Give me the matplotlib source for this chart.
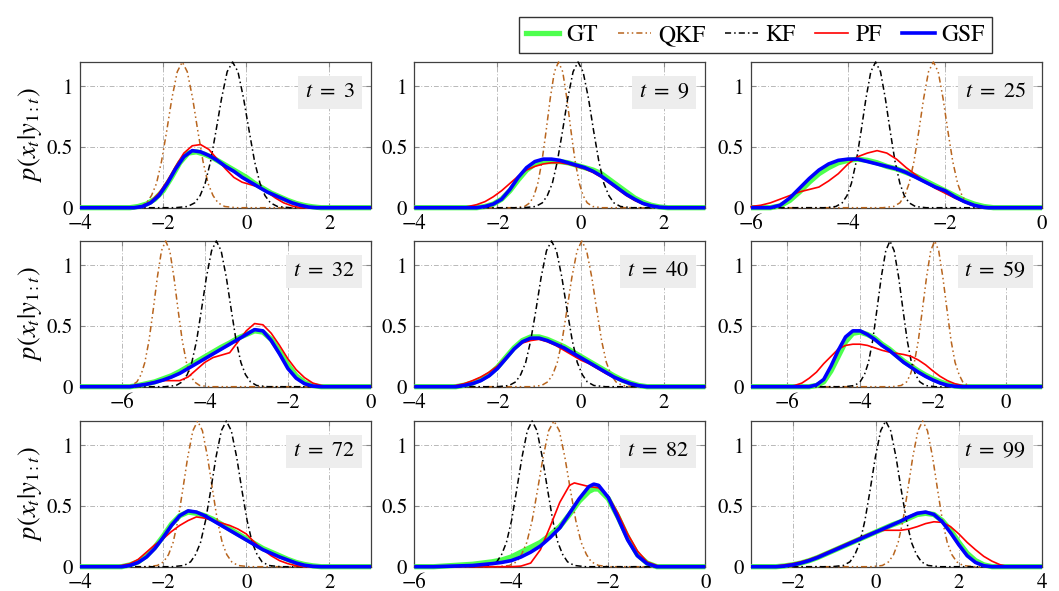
import matplotlib
matplotlib.use('Agg')
import matplotlib.pyplot as plt
from matplotlib.lines import Line2D

plt.rcParams['font.family'] = ['STIXGeneral', 'DejaVu Serif']
plt.rcParams['mathtext.fontset'] = 'stix'
plt.rcParams['axes.unicode_minus'] = True

# ---------------- data ----------------
TIMES = [3, 9, 25, 32, 40, 59, 72, 82, 99]
XLIMS = [(-4, 3), (-4, 3), (-6, 0), (-7, 0), (-4, 3), (-7, 1), (-4, 3), (-6, 0), (-3, 4)]
YTICKS = [0, 0.5, 1]
YTICKLABELS = ['0', '0.5', '1']
YMAX = 1.2
SERIES = ['GT', 'QKF', 'KF', 'PF', 'GSF']

# density levels of the narrow (KF / QKF) curves, read left tail -> peak -> right tail
NARROW_LEVELS = [0, 0.01, 0.04, 0.1, 0.2, 0.38, 0.63, 0.9, 1.12, 1.2,
                 1.12, 0.9, 0.63, 0.38, 0.2, 0.1, 0.04, 0.01, 0]

# x positions where each KF curve reaches the levels above (one list per panel)
KF_X = [
    [-1.71, -1.41, -1.24, -1.11, -0.99, -0.86, -0.73, -0.595, -0.46, -0.33,
     -0.20, -0.065, 0.07, 0.20, 0.33, 0.45, 0.58, 0.75, 1.05],
    [-1.36, -1.08, -0.92, -0.80, -0.68, -0.56, -0.435, -0.31, -0.18, -0.06,
     0.06, 0.19, 0.315, 0.44, 0.56, 0.68, 0.80, 0.96, 1.24],
    [-4.47, -4.25, -4.12, -4.02, -3.93, -3.83, -3.73, -3.63, -3.53, -3.43,
     -3.33, -3.23, -3.13, -3.03, -2.93, -2.84, -2.74, -2.61, -2.39],
    [-4.96, -4.69, -4.54, -4.42, -4.31, -4.195, -4.08, -3.96, -3.835, -3.72,
     -3.605, -3.48, -3.36, -3.245, -3.13, -3.02, -2.90, -2.75, -2.48],
    [-2.00, -1.72, -1.56, -1.44, -1.32, -1.20, -1.075, -0.95, -0.82, -0.70,
     -0.58, -0.45, -0.325, -0.20, -0.08, 0.04, 0.16, 0.32, 0.60],
    [-4.42, -4.15, -4.00, -3.88, -3.77, -3.655, -3.54, -3.42, -3.295, -3.18,
     -3.065, -2.94, -2.82, -2.705, -2.59, -2.48, -2.36, -2.21, -1.94],
    [-1.78, -1.50, -1.34, -1.22, -1.10, -0.98, -0.855, -0.73, -0.60, -0.48,
     -0.36, -0.23, -0.105, 0.02, 0.14, 0.26, 0.38, 0.54, 0.82],
    [-4.675, -4.44, -4.30, -4.20, -4.10, -3.995, -3.89, -3.78, -3.67, -3.57,
     -3.47, -3.36, -3.25, -3.145, -3.04, -2.94, -2.84, -2.70, -2.465],
    [-1.06, -0.78, -0.62, -0.50, -0.38, -0.26, -0.135, -0.01, 0.12, 0.24,
     0.36, 0.49, 0.615, 0.74, 0.86, 0.98, 1.10, 1.26, 1.54],
]

QKF_X = [
    [-2.84, -2.56, -2.40, -2.28, -2.16, -2.04, -1.915, -1.79, -1.66, -1.54,
     -1.42, -1.29, -1.165, -1.04, -0.92, -0.80, -0.68, -0.52, -0.24],
    [-1.57, -1.35, -1.22, -1.12, -1.03, -0.93, -0.83, -0.73, -0.63, -0.53,
     -0.43, -0.33, -0.23, -0.13, -0.03, 0.06, 0.16, 0.29, 0.51],
    [-3.28, -3.06, -2.93, -2.83, -2.74, -2.64, -2.54, -2.44, -2.34, -2.24,
     -2.14, -2.04, -1.94, -1.84, -1.74, -1.65, -1.55, -1.42, -1.20],
    [-5.98, -5.76, -5.63, -5.53, -5.44, -5.34, -5.24, -5.14, -5.04, -4.94,
     -4.84, -4.74, -4.64, -4.54, -4.44, -4.35, -4.25, -4.12, -3.90],
    [-1.21, -0.94, -0.79, -0.67, -0.56, -0.445, -0.33, -0.21, -0.085, 0.03,
     0.145, 0.27, 0.39, 0.505, 0.62, 0.73, 0.85, 1.00, 1.27],
    [-3.12, -2.87, -2.72, -2.62, -2.51, -2.40, -2.29, -2.175, -2.06, -1.95,
     -1.84, -1.725, -1.61, -1.50, -1.39, -1.28, -1.18, -1.03, -0.78],
    [-2.41, -2.14, -1.99, -1.87, -1.76, -1.645, -1.53, -1.41, -1.285, -1.17,
     -1.055, -0.93, -0.81, -0.695, -0.58, -0.47, -0.35, -0.20, 0.07],
    [-4.29, -4.04, -3.89, -3.79, -3.68, -3.57, -3.46, -3.345, -3.23, -3.12,
     -3.01, -2.895, -2.78, -2.67, -2.56, -2.45, -2.35, -2.20, -1.95],
    [-0.11, 0.16, 0.31, 0.43, 0.54, 0.655, 0.77, 0.89, 1.015, 1.13,
     1.245, 1.37, 1.49, 1.605, 1.72, 1.83, 1.95, 2.10, 2.37],
]

# wide curves: (x, density) pairs, one list per panel
GSF = [
    [(-2.7, 0), (-2.5, 0.01), (-2.3, 0.04), (-2.1, 0.10), (-1.9, 0.20), (-1.7, 0.32), (-1.5, 0.42),
     (-1.3, 0.47), (-1.1, 0.46), (-0.9, 0.43), (-0.7, 0.39), (-0.5, 0.34), (-0.3, 0.30), (-0.1, 0.25),
     (0.1, 0.21), (0.3, 0.17), (0.5, 0.13), (0.7, 0.10), (0.9, 0.07), (1.1, 0.04), (1.3, 0.02),
     (1.5, 0.005), (1.7, 0)],
    [(-2.5, 0), (-2.3, 0.01), (-2.1, 0.03), (-1.9, 0.07), (-1.7, 0.15), (-1.5, 0.25), (-1.3, 0.33),
     (-1.1, 0.38), (-0.9, 0.40), (-0.7, 0.40), (-0.5, 0.39), (-0.3, 0.37), (-0.1, 0.35), (0.1, 0.33),
     (0.3, 0.30), (0.5, 0.26), (0.7, 0.21), (0.9, 0.16), (1.1, 0.11), (1.3, 0.07), (1.5, 0.035),
     (1.7, 0.015), (1.9, 0.004), (2.1, 0)],
    [(-5.6, 0), (-5.4, 0.02), (-5.2, 0.08), (-5.0, 0.16), (-4.8, 0.24), (-4.6, 0.31), (-4.4, 0.36),
     (-4.2, 0.39), (-4.0, 0.40), (-3.8, 0.40), (-3.6, 0.38), (-3.4, 0.36), (-3.2, 0.34), (-3.0, 0.32),
     (-2.8, 0.29), (-2.6, 0.25), (-2.4, 0.21), (-2.2, 0.17), (-2.0, 0.14), (-1.8, 0.09), (-1.6, 0.05),
     (-1.4, 0.02), (-1.2, 0.003), (-1.1, 0)],
    [(-5.8, 0), (-5.6, 0.01), (-5.4, 0.02), (-5.2, 0.035), (-5.0, 0.055), (-4.8, 0.08), (-4.6, 0.11),
     (-4.4, 0.15), (-4.2, 0.19), (-4.0, 0.23), (-3.8, 0.27), (-3.6, 0.31), (-3.4, 0.35), (-3.2, 0.39),
     (-3.0, 0.43), (-2.8, 0.47), (-2.6, 0.46), (-2.4, 0.38), (-2.2, 0.27), (-2.0, 0.15), (-1.8, 0.07),
     (-1.6, 0.025), (-1.4, 0.005), (-1.2, 0)],
    [(-3.0, 0), (-2.8, 0.01), (-2.6, 0.025), (-2.4, 0.05), (-2.2, 0.09), (-2.0, 0.15), (-1.8, 0.23),
     (-1.6, 0.31), (-1.4, 0.37), (-1.2, 0.40), (-1.0, 0.40), (-0.8, 0.38), (-0.6, 0.35), (-0.4, 0.32),
     (-0.2, 0.28), (0.0, 0.24), (0.2, 0.20), (0.4, 0.16), (0.6, 0.12), (0.8, 0.08), (1.0, 0.05),
     (1.2, 0.025), (1.4, 0.008), (1.6, 0)],
    [(-5.4, 0), (-5.2, 0.015), (-5.0, 0.06), (-4.8, 0.17), (-4.6, 0.30), (-4.4, 0.41), (-4.2, 0.46),
     (-4.0, 0.46), (-3.8, 0.43), (-3.6, 0.39), (-3.4, 0.34), (-3.2, 0.30), (-3.0, 0.25), (-2.8, 0.20),
     (-2.6, 0.16), (-2.4, 0.12), (-2.2, 0.085), (-2.0, 0.055), (-1.8, 0.03), (-1.6, 0.012),
     (-1.4, 0.003), (-1.2, 0)],
    [(-3.0, 0), (-2.8, 0.01), (-2.6, 0.035), (-2.4, 0.08), (-2.2, 0.15), (-2.0, 0.24), (-1.8, 0.34),
     (-1.6, 0.42), (-1.4, 0.46), (-1.2, 0.45), (-1.0, 0.42), (-0.8, 0.38), (-0.6, 0.34), (-0.4, 0.30),
     (-0.2, 0.26), (0.0, 0.22), (0.2, 0.18), (0.4, 0.14), (0.6, 0.11), (0.8, 0.08), (1.0, 0.055),
     (1.2, 0.03), (1.4, 0.012), (1.6, 0.003), (1.8, 0)],
    [(-5.6, 0), (-5.2, 0.005), (-4.8, 0.01), (-4.4, 0.025), (-4.2, 0.035), (-4.0, 0.05), (-3.8, 0.08),
     (-3.6, 0.12), (-3.4, 0.17), (-3.2, 0.24), (-3.0, 0.32), (-2.8, 0.44), (-2.6, 0.56), (-2.4, 0.66),
     (-2.3, 0.68), (-2.2, 0.67), (-2.0, 0.57), (-1.8, 0.40), (-1.6, 0.22), (-1.4, 0.09), (-1.2, 0.025),
     (-1.0, 0)],
    [(-2.4, 0), (-2.2, 0.005), (-2.0, 0.015), (-1.8, 0.03), (-1.6, 0.05), (-1.4, 0.075), (-1.2, 0.105),
     (-1.0, 0.135), (-0.8, 0.165), (-0.6, 0.195), (-0.4, 0.225), (-0.2, 0.255), (0.0, 0.285),
     (0.2, 0.315), (0.4, 0.345), (0.6, 0.375), (0.8, 0.41), (1.0, 0.44), (1.2, 0.45), (1.4, 0.43),
     (1.6, 0.37), (1.8, 0.28), (2.0, 0.18), (2.2, 0.09), (2.4, 0.035), (2.6, 0.008), (2.8, 0)],
]

GT = [
    [(-2.8, 0), (-2.6, 0.01), (-2.4, 0.03), (-2.2, 0.07), (-2.0, 0.14), (-1.8, 0.25), (-1.6, 0.37),
     (-1.4, 0.45), (-1.2, 0.46), (-1.0, 0.44), (-0.8, 0.41), (-0.6, 0.37), (-0.4, 0.33), (-0.2, 0.29),
     (0.0, 0.25), (0.2, 0.20), (0.4, 0.16), (0.6, 0.12), (0.8, 0.09), (1.0, 0.06), (1.2, 0.035),
     (1.4, 0.018), (1.6, 0.007), (1.8, 0)],
    [(-2.5, 0), (-2.3, 0.01), (-2.1, 0.03), (-1.9, 0.07), (-1.7, 0.14), (-1.5, 0.23), (-1.3, 0.31),
     (-1.1, 0.36), (-0.9, 0.38), (-0.7, 0.38), (-0.5, 0.38), (-0.3, 0.37), (-0.1, 0.35), (0.1, 0.33),
     (0.3, 0.31), (0.5, 0.28), (0.7, 0.23), (0.9, 0.18), (1.1, 0.13), (1.3, 0.08), (1.5, 0.045),
     (1.7, 0.02), (1.9, 0.006), (2.1, 0)],
    [(-5.6, 0), (-5.4, 0.015), (-5.2, 0.06), (-5.0, 0.13), (-4.8, 0.21), (-4.6, 0.28), (-4.4, 0.33),
     (-4.2, 0.37), (-4.0, 0.39), (-3.8, 0.40), (-3.6, 0.39), (-3.4, 0.37), (-3.2, 0.34), (-3.0, 0.32),
     (-2.8, 0.29), (-2.6, 0.26), (-2.4, 0.22), (-2.2, 0.18), (-2.0, 0.14), (-1.8, 0.10), (-1.6, 0.06),
     (-1.4, 0.03), (-1.2, 0.01), (-1.0, 0)],
    [(-5.8, 0), (-5.6, 0.01), (-5.4, 0.025), (-5.2, 0.04), (-5.0, 0.065), (-4.8, 0.09), (-4.6, 0.125),
     (-4.4, 0.165), (-4.2, 0.205), (-4.0, 0.245), (-3.8, 0.285), (-3.6, 0.325), (-3.4, 0.36),
     (-3.2, 0.40), (-3.0, 0.43), (-2.8, 0.46), (-2.6, 0.45), (-2.4, 0.39), (-2.2, 0.29), (-2.0, 0.18),
     (-1.8, 0.09), (-1.6, 0.035), (-1.4, 0.01), (-1.2, 0)],
    [(-3.0, 0), (-2.8, 0.012), (-2.6, 0.03), (-2.4, 0.06), (-2.2, 0.10), (-2.0, 0.16), (-1.8, 0.24),
     (-1.6, 0.32), (-1.4, 0.38), (-1.2, 0.41), (-1.0, 0.41), (-0.8, 0.39), (-0.6, 0.36), (-0.4, 0.33),
     (-0.2, 0.29), (0.0, 0.25), (0.2, 0.21), (0.4, 0.17), (0.6, 0.13), (0.8, 0.09), (1.0, 0.055),
     (1.2, 0.03), (1.4, 0.01), (1.6, 0)],
    [(-5.4, 0), (-5.2, 0.01), (-5.0, 0.04), (-4.8, 0.13), (-4.6, 0.25), (-4.4, 0.37), (-4.2, 0.44),
     (-4.0, 0.45), (-3.8, 0.43), (-3.6, 0.40), (-3.4, 0.35), (-3.2, 0.31), (-3.0, 0.26), (-2.8, 0.21),
     (-2.6, 0.17), (-2.4, 0.13), (-2.2, 0.095), (-2.0, 0.065), (-1.8, 0.04), (-1.6, 0.02),
     (-1.4, 0.006), (-1.2, 0)],
    [(-3.0, 0), (-2.8, 0.015), (-2.6, 0.04), (-2.4, 0.09), (-2.2, 0.16), (-2.0, 0.25), (-1.8, 0.35),
     (-1.6, 0.42), (-1.4, 0.45), (-1.2, 0.44), (-1.0, 0.42), (-0.8, 0.39), (-0.6, 0.35), (-0.4, 0.31),
     (-0.2, 0.27), (0.0, 0.23), (0.2, 0.19), (0.4, 0.15), (0.6, 0.12), (0.8, 0.09), (1.0, 0.06),
     (1.2, 0.035), (1.4, 0.018), (1.6, 0.007), (1.8, 0)],
    [(-5.6, 0), (-5.2, 0.01), (-4.8, 0.02), (-4.4, 0.04), (-4.2, 0.055), (-4.0, 0.08), (-3.8, 0.12),
     (-3.6, 0.16), (-3.4, 0.20), (-3.2, 0.26), (-3.0, 0.33), (-2.8, 0.43), (-2.6, 0.54), (-2.4, 0.62),
     (-2.3, 0.64), (-2.2, 0.64), (-2.0, 0.56), (-1.8, 0.41), (-1.6, 0.24), (-1.4, 0.10), (-1.2, 0.03),
     (-1.0, 0)],
    [(-2.4, 0), (-2.2, 0.006), (-2.0, 0.016), (-1.8, 0.03), (-1.6, 0.05), (-1.4, 0.075), (-1.2, 0.105),
     (-1.0, 0.135), (-0.8, 0.165), (-0.6, 0.195), (-0.4, 0.225), (-0.2, 0.255), (0.0, 0.285),
     (0.2, 0.315), (0.4, 0.345), (0.6, 0.37), (0.8, 0.40), (1.0, 0.43), (1.2, 0.44), (1.4, 0.43),
     (1.6, 0.38), (1.8, 0.30), (2.0, 0.20), (2.2, 0.11), (2.4, 0.05), (2.6, 0.015), (2.8, 0)],
]

PF = [
    [(-2.7, 0), (-2.5, 0.015), (-2.3, 0.05), (-2.1, 0.12), (-1.9, 0.22), (-1.7, 0.34), (-1.5, 0.45),
     (-1.3, 0.51), (-1.1, 0.52), (-0.9, 0.48), (-0.7, 0.40), (-0.5, 0.32), (-0.3, 0.25), (-0.1, 0.21),
     (0.1, 0.19), (0.3, 0.17), (0.5, 0.13), (0.7, 0.08), (0.9, 0.04), (1.1, 0.015), (1.3, 0)],
    [(-2.9, 0), (-2.7, 0.01), (-2.5, 0.025), (-2.3, 0.05), (-2.1, 0.09), (-1.9, 0.14), (-1.7, 0.20),
     (-1.5, 0.26), (-1.3, 0.31), (-1.1, 0.34), (-0.9, 0.36), (-0.7, 0.37), (-0.5, 0.37), (-0.3, 0.36),
     (-0.1, 0.34), (0.1, 0.32), (0.3, 0.29), (0.5, 0.25), (0.7, 0.20), (0.9, 0.15), (1.1, 0.10),
     (1.3, 0.06), (1.5, 0.03), (1.7, 0.012), (1.9, 0.003), (2.1, 0)],
    [(-6.0, 0.01), (-5.8, 0.02), (-5.6, 0.04), (-5.4, 0.07), (-5.2, 0.10), (-5.0, 0.13), (-4.8, 0.15),
     (-4.6, 0.17), (-4.4, 0.22), (-4.2, 0.28), (-4.0, 0.36), (-3.8, 0.42), (-3.6, 0.45), (-3.4, 0.47),
     (-3.2, 0.45), (-3.0, 0.40), (-2.8, 0.33), (-2.6, 0.27), (-2.4, 0.21), (-2.2, 0.16), (-2.0, 0.12),
     (-1.8, 0.08), (-1.6, 0.045), (-1.4, 0.015), (-1.2, 0)],
    [(-5.8, 0), (-5.6, 0.01), (-5.4, 0.025), (-5.2, 0.04), (-5.0, 0.05), (-4.8, 0.05), (-4.6, 0.05),
     (-4.4, 0.08), (-4.2, 0.14), (-4.0, 0.20), (-3.8, 0.24), (-3.6, 0.26), (-3.4, 0.28), (-3.2, 0.37),
     (-3.0, 0.46), (-2.8, 0.52), (-2.6, 0.51), (-2.4, 0.44), (-2.2, 0.34), (-2.0, 0.23), (-1.8, 0.14),
     (-1.6, 0.075), (-1.4, 0.03), (-1.2, 0.01), (-1.0, 0)],
    [(-3.2, 0), (-3.0, 0.01), (-2.8, 0.025), (-2.6, 0.05), (-2.4, 0.08), (-2.2, 0.12), (-2.0, 0.17),
     (-1.8, 0.24), (-1.6, 0.31), (-1.4, 0.36), (-1.2, 0.38), (-1.0, 0.39), (-0.8, 0.37), (-0.6, 0.34),
     (-0.4, 0.30), (-0.2, 0.26), (0.0, 0.22), (0.2, 0.19), (0.4, 0.15), (0.6, 0.11), (0.8, 0.075),
     (1.0, 0.045), (1.2, 0.02), (1.4, 0.006), (1.6, 0)],
    [(-6.0, 0), (-5.8, 0.01), (-5.6, 0.03), (-5.4, 0.07), (-5.2, 0.12), (-5.0, 0.19), (-4.8, 0.25),
     (-4.6, 0.31), (-4.4, 0.34), (-4.2, 0.35), (-4.0, 0.35), (-3.8, 0.34), (-3.6, 0.32), (-3.4, 0.30),
     (-3.2, 0.285), (-3.0, 0.275), (-2.8, 0.265), (-2.6, 0.25), (-2.4, 0.22), (-2.2, 0.18),
     (-2.0, 0.13), (-1.8, 0.085), (-1.6, 0.05), (-1.4, 0.025), (-1.2, 0.01), (-1.0, 0)],
    [(-3.2, 0), (-3.0, 0.01), (-2.8, 0.025), (-2.6, 0.06), (-2.4, 0.12), (-2.2, 0.18), (-2.0, 0.23),
     (-1.8, 0.29), (-1.6, 0.34), (-1.4, 0.38), (-1.2, 0.41), (-1.0, 0.40), (-0.8, 0.38), (-0.6, 0.36),
     (-0.4, 0.34), (-0.2, 0.31), (0.0, 0.27), (0.2, 0.20), (0.4, 0.14), (0.6, 0.09), (0.8, 0.05),
     (1.0, 0.025), (1.2, 0.008), (1.4, 0)],
    [(-4.0, 0), (-3.8, 0.005), (-3.6, 0.03), (-3.4, 0.14), (-3.2, 0.33), (-3.0, 0.53), (-2.8, 0.67),
     (-2.7, 0.69), (-2.6, 0.68), (-2.4, 0.66), (-2.2, 0.65), (-2.0, 0.58), (-1.8, 0.44), (-1.6, 0.27),
     (-1.4, 0.13), (-1.2, 0.04), (-1.0, 0.01), (-0.9, 0)],
    [(-2.6, 0), (-2.4, 0.005), (-2.2, 0.015), (-2.0, 0.025), (-1.8, 0.04), (-1.6, 0.06), (-1.4, 0.085),
     (-1.2, 0.115), (-1.0, 0.145), (-0.8, 0.175), (-0.6, 0.205), (-0.4, 0.235), (-0.2, 0.265),
     (0.0, 0.29), (0.2, 0.30), (0.4, 0.30), (0.6, 0.30), (0.8, 0.31), (1.0, 0.33), (1.2, 0.355),
     (1.4, 0.37), (1.6, 0.365), (1.8, 0.33), (2.0, 0.27), (2.2, 0.20), (2.4, 0.14), (2.6, 0.085),
     (2.8, 0.045), (3.0, 0.015), (3.2, 0)],
]

# ---------------- styles ----------------
STYLE = {
    'GT':  dict(color='#4dff4d', lw=3.8, ls='-', zorder=3),
    'QKF': dict(color='#b8651e', lw=1.1, ls=(0, (4, 2, 1, 2, 1, 2)), zorder=4),
    'KF':  dict(color='black', lw=1.1, ls=(0, (4, 2, 1, 2)), zorder=5),
    'PF':  dict(color='#ff0000', lw=1.2, ls='-', zorder=6),
    'GSF': dict(color='#0000ff', lw=2.6, ls='-', zorder=7),
}

W, H = 1059, 591
fig = plt.figure(figsize=(W / 100, H / 100), dpi=100)

COL_LEFT = [80, 414.3, 751]
ROW_TOP = [62, 241, 421]
AX_W, AX_H = 291, 145.7


def padded(xs, ys, lo, hi):
    return [lo] + list(xs) + [hi], [0] + list(ys) + [0]


for i in range(9):
    r, c = divmod(i, 3)
    left = COL_LEFT[c] / W
    bottom = 1 - (ROW_TOP[r] + AX_H) / H
    ax = fig.add_axes([left, bottom, AX_W / W, AX_H / H])
    lo, hi = XLIMS[i]
    ax.set_xlim(lo, hi)
    ax.set_ylim(0, YMAX)

    curves = {
        'GT': ([p[0] for p in GT[i]], [p[1] for p in GT[i]]),
        'QKF': (QKF_X[i], NARROW_LEVELS),
        'KF': (KF_X[i], NARROW_LEVELS),
        'PF': ([p[0] for p in PF[i]], [p[1] for p in PF[i]]),
        'GSF': ([p[0] for p in GSF[i]], [p[1] for p in GSF[i]]),
    }
    for name in SERIES:
        xs, ys = curves[name]
        xx, yy = padded(xs, ys, lo, hi)
        st = STYLE[name]
        ax.plot(xx, yy, color=st['color'], lw=st['lw'], ls=st['ls'],
                zorder=st['zorder'], clip_on=False, solid_capstyle='butt')

    ax.set_xticks(list(range(lo + (lo % 2), hi + 1, 2)))
    ax.set_yticks(YTICKS)
    ax.set_yticklabels(YTICKLABELS)
    ax.grid(True, color='#b8b8b8', lw=0.7, ls=(0, (5, 2, 1, 2)), zorder=0)
    ax.set_axisbelow(True)
    ax.tick_params(direction='in', length=3.5, width=0.8, color='#888888',
                   top=True, right=True, labelsize=15)
    ax.tick_params(axis='x', pad=4.5)
    ax.tick_params(axis='y', pad=5)
    for sp in ax.spines.values():
        sp.set_color('#404040')
        sp.set_linewidth(0.9)
        sp.set_zorder(2)

    ax.text(0.945, 0.79, r'$t\ =\ %d$' % TIMES[i], transform=ax.transAxes,
            ha='right', va='center', fontsize=16, zorder=10,
            bbox=dict(boxstyle='square,pad=0.3', fc='#ededed', ec='none'))

    if c == 0:
        ax.set_ylabel(r'$p(x_t|y_{1:t})$', fontsize=19, labelpad=2)

handles = [Line2D([], [], color=STYLE[n]['color'], lw=STYLE[n]['lw'], ls=STYLE[n]['ls'])
           for n in SERIES]
leg = fig.legend(handles, SERIES, ncol=5, loc='lower left',
                 bbox_to_anchor=(519 / W, 1 - 53 / H, 473 / W, 41 / H), mode='expand',
                 frameon=True, fancybox=False, edgecolor='black', fontsize=17,
                 handlelength=1.4, columnspacing=0.4, handletextpad=0.3, borderpad=0.3,
                 borderaxespad=0)
leg.get_frame().set_linewidth(1.0)

fig.savefig('out.png', dpi=100)
